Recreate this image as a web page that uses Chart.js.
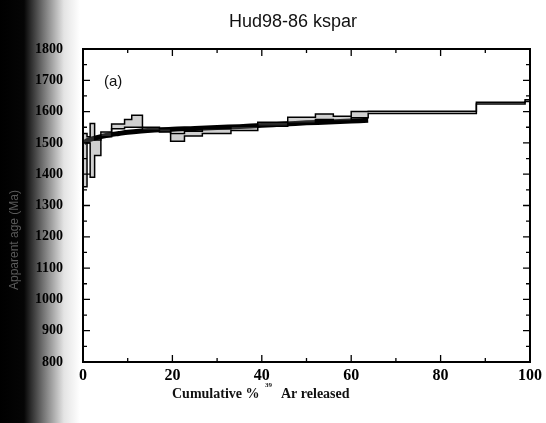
<!DOCTYPE html>
<html>
<head>
<meta charset="utf-8">
<script src="https://cdn.jsdelivr.net/npm/chart.js@4"></script>
<style>
html,body{margin:0;padding:0;background:#fff;}
#wrap{width:546px;height:423px;position:relative;}
</style>
</head>
<body>
<div id="wrap"><canvas id="spectrum" width="546" height="423"></canvas></div>
<script>
// step edges (cumulative % 39Ar) and apparent age bounds of each step (Ma)
let stepEdges = [0, 0.9, 1.6, 2.6, 4.0, 6.4, 9.3, 10.9, 13.3, 17.1, 19.6, 22.7, 26.7, 33.1, 39.1, 45.8, 52.0, 56.0, 60.0, 63.8, 88.0, 98.9, 100];
let ageHigh = [1530, 1520, 1562, 1509, 1535, 1560, 1575, 1588, 1550, 1545, 1530, 1537, 1545, 1553, 1566, 1582, 1592, 1585, 1600, 1601, 1630, 1638];
let ageLow  = [1360, 1500, 1390, 1460, 1520, 1545, 1550, 1550, 1540, 1535, 1505, 1522, 1530, 1540, 1553, 1563, 1575, 1570, 1580, 1594, 1624, 1632];

// model spectrum
let modelX   = [0.2, 1, 2, 4, 6, 8, 10, 13, 16, 20, 25, 30, 35, 40, 45, 50, 55, 60, 63.8];
let modelAge = [1500, 1508, 1513, 1520, 1526, 1530, 1534, 1538, 1541, 1544, 1546, 1549, 1552, 1556, 1560, 1564, 1567, 1570, 1572];

let xTicks = [0, 20, 40, 60, 80, 100];
let yTicks = [800, 900, 1000, 1100, 1200, 1300, 1400, 1500, 1600, 1700, 1800];

function steps(vals){
  let pts = vals.map((v,i) => ({x: stepEdges[i], y: v}));
  pts.push({x: stepEdges[stepEdges.length-1], y: vals[vals.length-1]});
  return pts;
}

let decor = {
  id: 'decor',
  beforeDraw(c){
    let ctx = c.ctx;
    ctx.save();
    // dark scanner edge on the left
    let g = ctx.createLinearGradient(0, 0, 80, 0);
    g.addColorStop(0, '#000');
    g.addColorStop(0.3, '#050505');
    g.addColorStop(0.55, '#777');
    g.addColorStop(0.8, '#e4e4e4');
    g.addColorStop(1, '#fff');
    ctx.fillStyle = g;
    ctx.fillRect(0, 0, 80, c.height);
    ctx.restore();
  },
  afterDraw(c){
    let ctx = c.ctx, a = c.chartArea;
    let xs = c.scales.x, ys = c.scales.y;
    ctx.save();
    ctx.strokeStyle = '#000';
    ctx.lineWidth = 2;
    ctx.strokeRect(a.left, a.top, a.right - a.left, a.bottom - a.top);
    ctx.lineWidth = 1.3;
    ctx.beginPath();
    for (let v = 0; v <= 100; v += 10){
      let px = xs.getPixelForValue(v);
      let len = v % 20 === 0 ? 7 : 4;
      ctx.moveTo(px, a.bottom); ctx.lineTo(px, a.bottom - len);
      ctx.moveTo(px, a.top); ctx.lineTo(px, a.top + len);
    }
    for (let v = 800; v <= 1800; v += 50){
      let py = ys.getPixelForValue(v);
      let len = v % 100 === 0 ? 7 : 4;
      ctx.moveTo(a.left, py); ctx.lineTo(a.left + len, py);
      ctx.moveTo(a.right, py); ctx.lineTo(a.right - len, py);
    }
    ctx.stroke();

    // title
    ctx.fillStyle = '#111';
    ctx.font = "18px 'Liberation Sans', Arial, sans-serif";
    ctx.textAlign = 'center';
    ctx.textBaseline = 'middle';
    ctx.fillText('Hud98-86 kspar', 293, 22);

    // panel label
    ctx.font = "15px 'Liberation Sans', Arial, sans-serif";
    ctx.textAlign = 'left';
    ctx.fillText('(a)', 104, 82);

    // x axis title with superscript
    ctx.font = "bold 14px 'Liberation Serif', serif";
    ctx.fillText('Cumulative %', 172, 394);
    ctx.fillText('Ar released', 281, 394);
    ctx.font = "bold 7px 'Liberation Serif', serif";
    ctx.fillText('39', 265, 385);

    // faint y axis title on the dark edge
    ctx.translate(15, 240);
    ctx.rotate(-Math.PI / 2);
    ctx.textAlign = 'center';
    ctx.fillStyle = '#5a5a5a';
    ctx.font = "12px 'Liberation Sans', sans-serif";
    ctx.fillText('Apparent age (Ma)', 0, 0);
    ctx.restore();
  }
};

new Chart(document.getElementById('spectrum'), {
  type: 'line',
  data: {
    datasets: [
      {
        label: 'upper',
        data: steps(ageHigh),
        stepped: 'before',
        borderColor: '#000',
        borderWidth: 1.5,
        pointRadius: 0,
        fill: false
      },
      {
        label: 'lower',
        data: steps(ageLow),
        stepped: 'before',
        borderColor: '#000',
        borderWidth: 1.5,
        pointRadius: 0,
        fill: {target: 0},
        backgroundColor: 'rgba(120,120,120,0.35)'
      },
      {
        label: 'model',
        data: modelX.map((x,i) => ({x: x, y: modelAge[i]})),
        borderColor: '#000',
        borderWidth: 5,
        pointRadius: 0,
        tension: 0.3,
        fill: false
      }
    ]
  },
  options: {
    responsive: false,
    animation: false,
    layout: {padding: {left: 0, right: 13, top: 49, bottom: 0}},
    plugins: {legend: {display: false}, tooltip: {enabled: false}},
    scales: {
      x: {
        type: 'linear',
        min: 0, max: 100,
        afterFit(s){ s.height = 61; },
        afterBuildTicks(s){ s.ticks = xTicks.map(v => ({value: v})); },
        grid: {display: false, drawTicks: false},
        border: {display: false},
        ticks: {padding: 4, color: '#000', callback: v => String(v),
                font: {family: "'Liberation Serif', serif", weight: 'bold', size: 16}}
      },
      y: {
        min: 800, max: 1800,
        afterFit(s){ s.width = 83; },
        afterBuildTicks(s){ s.ticks = yTicks.map(v => ({value: v})); },
        grid: {display: false, drawTicks: false},
        border: {display: false},
        ticks: {padding: 20, color: '#000', callback: v => String(v),
                font: {family: "'Liberation Serif', serif", weight: 'bold', size: 14}}
      }
    }
  },
  plugins: [decor]
});
</script>
</body>
</html>
